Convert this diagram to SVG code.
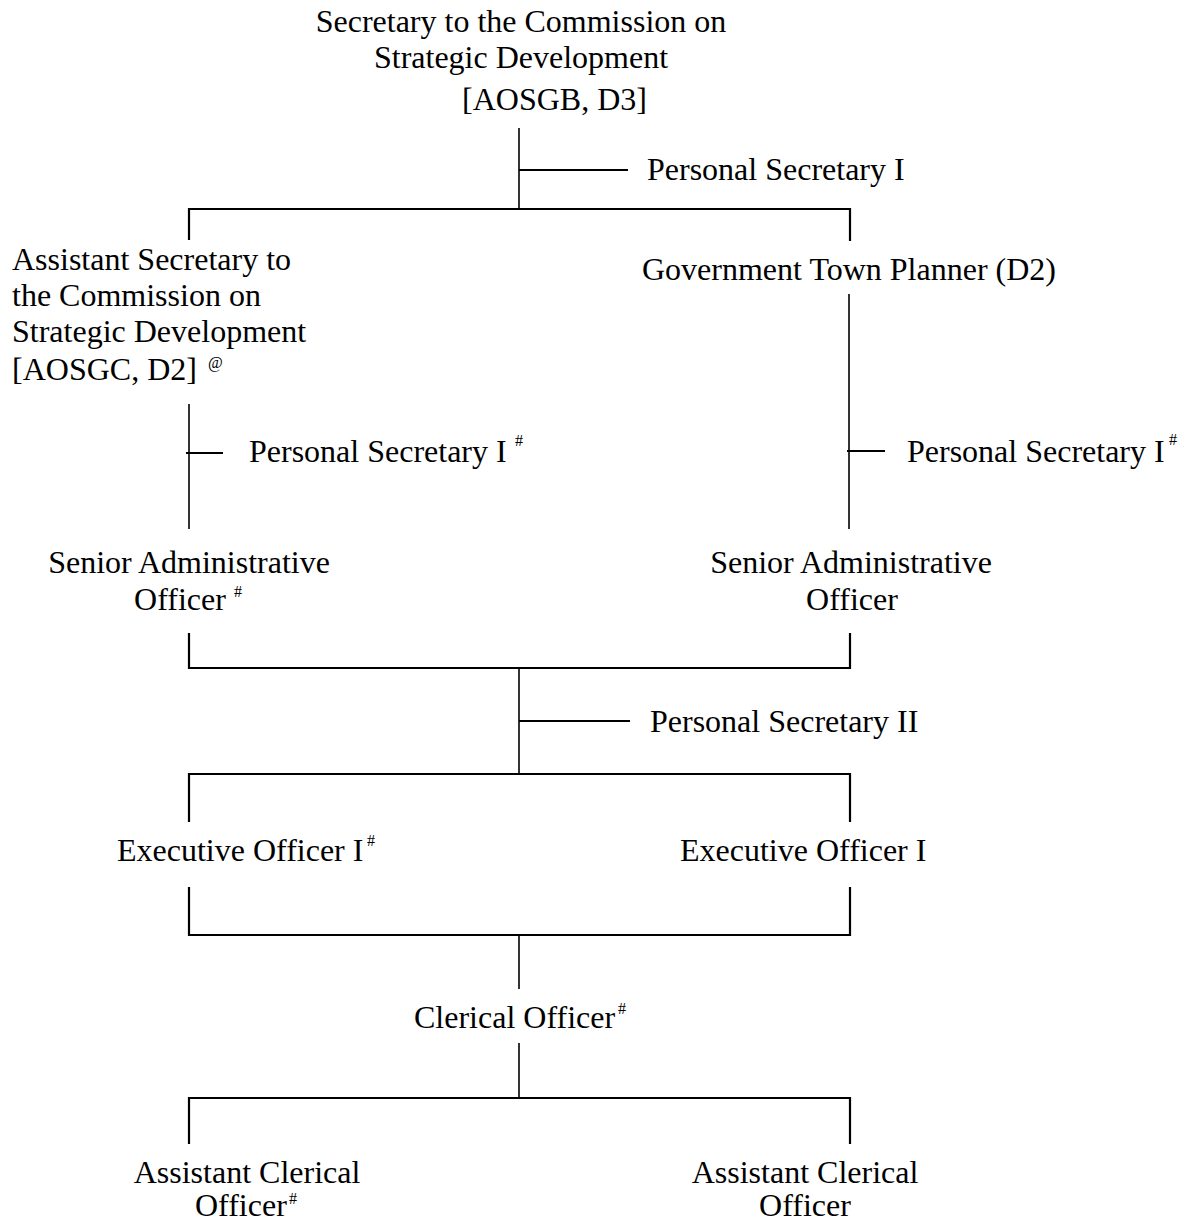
<svg xmlns="http://www.w3.org/2000/svg" width="1195" height="1224" viewBox="0 0 1195 1224">
<style>
text { font-family: "Liberation Serif", "Times New Roman", serif; font-size: 32px; fill: #000; }
.c { text-anchor: middle; }
.sup { font-size: 16px; }
.br { stroke: #000; stroke-width: 2.2; fill: none; }
.ln { stroke: #000; stroke-width: 1.6; fill: none; }
</style>
<rect width="1195" height="1224" fill="#fff"/>
<g id="connectors">
  <line class="ln" x1="519" y1="128" x2="519" y2="209"/>
  <line class="br" x1="519" y1="170" x2="628" y2="170"/>
  <polyline class="br" points="189,240 189,209 850,209 850,241"/>
  <line class="ln" x1="189" y1="404" x2="189" y2="529"/>
  <line class="br" x1="186" y1="453" x2="223" y2="453"/>
  <line class="ln" x1="849" y1="294" x2="849" y2="529"/>
  <line class="br" x1="847" y1="451" x2="885" y2="451"/>
  <polyline class="br" points="189,633 189,668 850,668 850,633"/>
  <line class="ln" x1="519" y1="668" x2="519" y2="774"/>
  <line class="br" x1="519" y1="721" x2="630" y2="721"/>
  <polyline class="br" points="189,822 189,774 850,774 850,822"/>
  <polyline class="br" points="189,887 189,935 850,935 850,887"/>
  <line class="ln" x1="519" y1="935" x2="519" y2="989"/>
  <line class="ln" x1="519" y1="1043" x2="519" y2="1098"/>
  <polyline class="br" points="189,1144 189,1098 850,1098 850,1144"/>
</g>
<g id="secretary">
  <text x="521" y="32" class="c">Secretary to the Commission on</text>
  <text x="521" y="68" class="c">Strategic Development</text>
  <text x="462" y="110">[AOSGB, D3]</text>
</g>
<g id="ps1-top">
  <text x="647" y="180">Personal Secretary I</text>
</g>
<g id="assistant-secretary">
  <text x="12" y="270">Assistant Secretary to</text>
  <text x="12" y="306">the Commission on</text>
  <text x="12" y="342">Strategic Development</text>
  <text x="12" y="380">[AOSGC, D2]</text>
  <text x="208" y="368" class="sup">@</text>
</g>
<g id="town-planner">
  <text x="642" y="280">Government Town Planner (D2)</text>
</g>
<g id="ps1-left">
  <text x="249" y="462">Personal Secretary I</text>
  <text x="515" y="446" class="sup">#</text>
</g>
<g id="ps1-right">
  <text x="907" y="462">Personal Secretary I</text>
  <text x="1169" y="445" class="sup">#</text>
</g>
<g id="sao-left">
  <text x="189" y="573" class="c">Senior Administrative</text>
  <text x="180" y="610" class="c">Officer</text>
  <text x="234" y="597" class="sup">#</text>
</g>
<g id="sao-right">
  <text x="851" y="573" class="c">Senior Administrative</text>
  <text x="852" y="610" class="c">Officer</text>
</g>
<g id="ps2">
  <text x="650" y="732">Personal Secretary II</text>
</g>
<g id="eo-left">
  <text x="117" y="861">Executive Officer I</text>
  <text x="367" y="846" class="sup">#</text>
</g>
<g id="eo-right">
  <text x="680" y="861">Executive Officer I</text>
</g>
<g id="clerical">
  <text x="414" y="1028">Clerical Officer</text>
  <text x="618" y="1014" class="sup">#</text>
</g>
<g id="aco-left">
  <text x="247" y="1183" class="c">Assistant Clerical</text>
  <text x="195" y="1216">Officer</text>
  <text x="289" y="1204" class="sup">#</text>
</g>
<g id="aco-right">
  <text x="805" y="1183" class="c">Assistant Clerical</text>
  <text x="805" y="1216" class="c">Officer</text>
</g>
</svg>
